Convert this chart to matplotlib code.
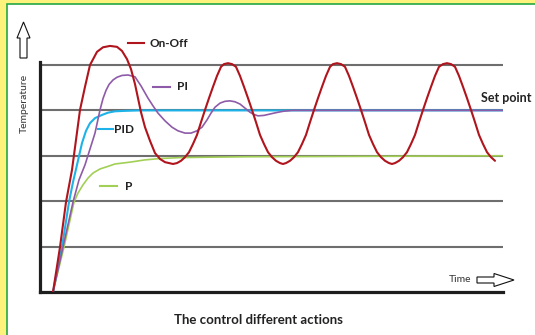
import matplotlib.pyplot as plt
from matplotlib.patches import Rectangle, FancyArrow

# time in seconds, temperature in degrees
onoff_t = [13, 20, 26, 32, 36, 40, 45, 50, 57, 63, 70, 77, 82, 87, 91, 95, 98, 101, 105, 110,
           115, 120, 125, 133,
           137, 141, 145, 149, 153, 157, 161, 165, 169, 173, 177, 181, 184, 188,
           192, 196, 200, 204, 208, 212, 216, 220, 224, 228, 232, 236, 240, 243,
           246, 250, 254, 258, 262, 266, 270, 274, 278, 282, 286, 290, 293, 297,
           301, 305, 309, 313, 317, 321, 325, 329, 333, 337, 341, 345, 349, 352,
           355, 359, 363, 367, 371, 375, 379, 383, 387, 391, 395, 399, 403, 407,
           411, 415, 419, 423, 427, 431, 435, 439, 443, 447, 451, 455]
onoff_temp = [0, 9.9, 19.8, 26.9, 33.5, 40.1, 45.2, 50.0, 52.9, 53.9, 54.2, 54.0, 53.1, 51.3, 49.1, 45.8, 42.7, 39.6, 36.3, 33.3,
              30.6, 29.3, 28.6, 28.2,
              28.4, 28.9, 29.7, 30.8, 32.6, 34.6, 37.4, 40.1, 42.7, 45.2, 47.6, 49.6, 50.2, 50.4,
              50.2, 49.6, 47.6, 45.2, 42.7, 40.1, 37.4, 34.6, 32.6, 30.8, 29.7, 28.9, 28.4, 28.2,
              28.4, 28.9, 29.7, 30.8, 32.6, 34.6, 37.4, 40.1, 42.7, 45.2, 47.6, 49.6, 50.2, 50.4,
              50.2, 49.6, 47.6, 45.2, 42.7, 40.1, 37.4, 34.6, 32.6, 30.8, 29.7, 28.9, 28.4, 28.2,
              28.4, 28.9, 29.7, 30.8, 32.6, 34.6, 37.4, 40.1, 42.7, 45.2, 47.6, 49.6, 50.2, 50.4,
              50.2, 49.6, 47.6, 45.2, 42.7, 40.1, 37.4, 34.6, 32.6, 30.8, 29.7, 28.9]

pi_t = [13, 23, 33, 39, 45, 50, 55, 60, 63, 66, 69, 73, 77, 82, 88, 95, 101, 108, 113, 118, 125, 132,
        138, 145, 151, 157, 162, 167, 171, 175, 180, 185, 190, 195, 200, 205, 210, 214,
        218, 224, 230, 236, 243, 252, 463]
pi_temp = [0, 9.9, 19.8, 24.7, 28.0, 31.5, 35.0, 40.1, 42.6, 44.4, 45.7, 46.7, 47.3, 47.7, 47.8, 47.4, 45.4, 42.7, 41.0, 39.4, 37.7, 36.3,
           35.5, 35.0, 35.0, 35.5, 36.3, 37.9, 39.4, 40.7, 41.6, 42.0, 42.1, 41.9, 41.4, 40.5, 39.6, 39.1,
           38.8, 38.9, 39.2, 39.5, 39.8, 40.0, 40.0]

pid_t = [13, 22, 29, 33, 37, 42, 46, 50, 55, 62, 68, 75, 85, 100, 463]
pid_temp = [0, 9.9, 19.8, 24.2, 28.0, 32.8, 35.5, 37.2, 38.3, 39.0, 39.5, 39.8, 39.9, 40.0, 40.0]

p_t = [13, 24, 34, 38, 43, 48, 53, 60, 67, 75, 90, 105, 120, 140, 170, 210, 463]
p_temp = [0, 9.9, 19.8, 21.8, 23.6, 25.1, 26.2, 27.1, 27.6, 28.2, 28.6, 29.1, 29.4, 29.6, 29.7, 29.8, 30.0]

grid_levels = [10, 20, 30, 40, 50]

RED = '#b0141c'
PURPLE = '#8e5ba8'
CYAN = '#1db3e8'
GREEN = '#a2cf55'
GRAY = '#6e6e6e'

plt.rcParams['font.family'] = ['Lato', 'DejaVu Sans']

W, H = 535, 335
fig = plt.figure(figsize=(W / 100, H / 100), dpi=100)
fig.patch.set_facecolor('#fcf27c')

# white panel with green frame
fig.patches.append(Rectangle((7 / W, -0.1), 2, (H - 4.5) / H + 0.1, transform=fig.transFigure,
                             facecolor='white', edgecolor='#26a846', lw=1.2, zorder=-5))

ax = fig.add_axes([40 / W, 43 / H, 463 / W, 252 / H])
ax.set_zorder(1)
ax.set_facecolor('none')
ax.set_xlim(0, 463)
ax.set_ylim(0, 252 / 4.54)

for lev in grid_levels:
    ax.axhline(lev, color=GRAY, lw=1.5, zorder=1)

line_kw = dict(solid_joinstyle='round', solid_capstyle='round')
ax.plot(p_t, p_temp, color=GREEN, lw=1.2, zorder=2, **line_kw)
ax.plot(pid_t, pid_temp, color=CYAN, lw=1.5, zorder=3, **line_kw)
ax.plot(pi_t, pi_temp, color=PURPLE, lw=1.2, zorder=4, **line_kw)
ax.plot(onoff_t, onoff_temp, color=RED, lw=1.5, zorder=5, **line_kw)

for s in ['top', 'right']:
    ax.spines[s].set_visible(False)
ax.spines['left'].set_linewidth(2.3)
ax.spines['bottom'].set_linewidth(2.3)
ax.spines['left'].set_color('#1e1e1e')
ax.spines['bottom'].set_color('#1e1e1e')
ax.spines['left'].set_bounds(0, 50.6)
ax.set_xticks([])
ax.set_yticks([])

# curve labels with short line keys
labels = [('On-Off', RED, 88, 104, 54.8, 109),
          ('PI', PURPLE, 113, 130, 45.2, 137),
          ('PID', CYAN, 58, 73, 35.9, 74),
          ('P', GREEN, 60, 77, 23.3, 85)]
for name, col, x0, x1, y, xt in labels:
    ax.plot([x0, x1], [y, y], color=col, lw=1.5, zorder=6, clip_on=False)
    ax.text(xt, y, name, fontsize=8.5, fontweight='bold', color='#222222',
            va='center', ha='left', zorder=7)

ax.text(441, 42.7, 'Set point', fontsize=9, fontweight='bold', color='#222222',
        va='center', ha='left')

fig.text(24 / W, 1 - 103 / H, 'Temperature', rotation=90, fontsize=7.5,
         color='#333333', ha='center', va='center')
fig.text(460 / W, 1 - 280 / H, 'Time', fontsize=7.5, color='#333333',
         ha='center', va='center')
fig.text(258 / W, 1 - 320 / H, 'The control different actions', fontsize=9.5,
         fontweight='bold', color='#222222', ha='center', va='center')

# hollow block arrows for the axes
fig.patches.append(FancyArrow(0.235, (H - 58) / 100, 0, 0.36, width=0.07, head_width=0.13,
                              head_length=0.16, length_includes_head=True,
                              transform=fig.dpi_scale_trans, facecolor='white',
                              edgecolor='#111111', lw=0.8, zorder=3))
fig.patches.append(FancyArrow(4.77, (H - 280) / 100, 0.37, 0, width=0.06, head_width=0.13,
                              head_length=0.2, length_includes_head=True,
                              transform=fig.dpi_scale_trans, facecolor='white',
                              edgecolor='#111111', lw=0.8, zorder=3))

fig.savefig('out.png', dpi=100)
